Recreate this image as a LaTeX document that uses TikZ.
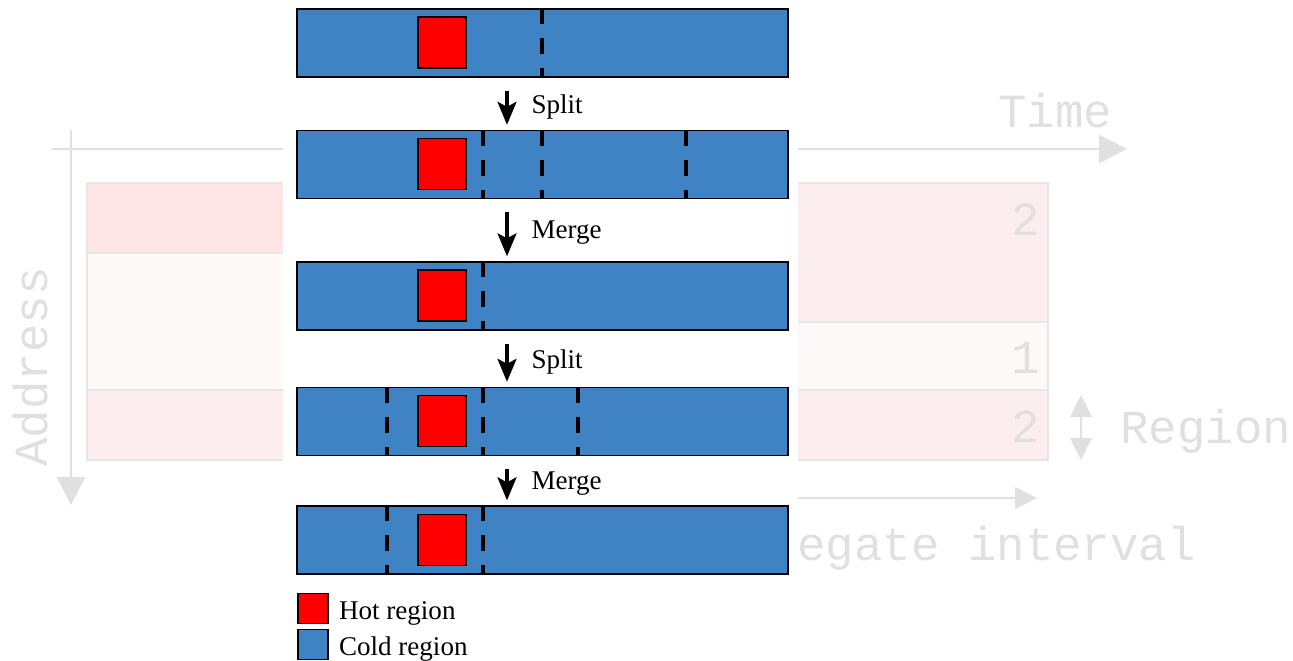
\documentclass[tikz,border=0pt]{standalone}
\usepackage{fontspec}
\setmainfont{Liberation Serif}
\setmonofont{Liberation Mono}
\usepackage{tikz}
\usetikzlibrary{arrows.meta}
\usetikzlibrary{positioning}
\definecolor{cold}{RGB}{63,131,196}
\definecolor{faint}{RGB}{224,224,224}
\definecolor{pinkA}{RGB}{253,228,229}
\definecolor{pinkB}{RGB}{252,238,238}
\definecolor{pinkC}{RGB}{253,249,249}

\begin{document}
\begin{tikzpicture}
    [
    x=0.02cm,y=-0.02cm,
    bar/.style={rectangle,draw,fill=cold,line width=0.8pt,inner sep=0pt,minimum width=9.82cm,minimum height=1.36cm},
    hot/.style={rectangle,draw,fill=red,line width=0.8pt,inner sep=0pt,minimum width=0.96cm,minimum height=1.02cm},
    key/.style={rectangle,draw,line width=0.8pt,inner sep=0pt,minimum size=0.6cm},
    cut/.style={line width=2pt,dash pattern=on 0.32cm off 0.28cm},
    move/.style={-{Stealth[length=0.46cm,width=0.38cm,inset=0.1cm]},line width=1.8pt,shorten <=0.26cm,shorten >=0.1cm},
    lab/.style={inner sep=0pt,font=\fontsize{15.4}{18}\selectfont},
    faded/.style={inner sep=0pt,text=faint,font=\ttfamily\fontsize{27}{30}\selectfont},
    cell/.style={draw=faint!80,line width=0.6pt},
    axis/.style={draw=faint,line width=1.7pt,-{Triangle[length=0.56cm,width=0.56cm]}}
    ]
    \useasboundingbox (0,0) rectangle (1293,660);
    % faded picture in the back
    \path[cell,fill=pinkA] (87,183) rectangle (300,253);
    \path[cell,fill=pinkC] (87,253) rectangle (300,390);
    \path[cell,fill=pinkB] (87,390) rectangle (300,460);
    \path[cell,fill=pinkB] (780,183) rectangle (1048,322);
    \path[cell,fill=pinkC] (780,322) rectangle (1048,390);
    \path[cell,fill=pinkB] (780,390) rectangle (1048,460);
    \draw[axis] (52,149) -- (1127,149);
    \draw[axis] (71,130) -- (71,505);
    \node[faded,anchor=base west] (time) at (998,127) {Time};
    \node[faded,rotate=90,anchor=base] (address) at (47,367) {Address};
    \node[faded,anchor=base west] (region) at (1120,443) {Region};
    \node[faded,anchor=base east] (n1) at (1040,235) {2};
    \node[faded,anchor=base east] (n2) at (1040,373) {1};
    \node[faded,anchor=base east] (n3) at (1040,442) {2};
    \fill[white] (283,0) rectangle (798,660);
    \node[faded,anchor=base west] (interval) at (797,560) {egate interval};
    \draw[faint,line width=0.9pt,-{Triangle[length=0.44cm,width=0.44cm]}] (798,498) -- (1037,498);
    \draw[faint,line width=0.6pt,{Triangle[length=0.44cm,width=0.44cm]}-{Triangle[length=0.44cm,width=0.44cm]}] (1081,395) -- (1081,460);
    % regions
    \node[bar] (b1) at (542.5,43) {};
    \node[bar] (b2) at (542.5,164.5) {};
    \node[bar] (b3) at (542.5,296) {};
    \node[bar] (b4) at (542.5,421.5) {};
    \node[bar] (b5) at (542.5,540) {};
    \node[hot] (h1) at (442,42.5) {};
    \node[hot] (h2) at (442,164) {};
    \node[hot] (h3) at (442,295.5) {};
    \node[hot] (h4) at (442,421) {};
    \node[hot] (h5) at (442,540) {};
    \draw[cut] (b1.north -| 542,0) -- (b1.south -| 542,0);
    \draw[cut] (b2.north -| 483,0) -- (b2.south -| 483,0);
    \draw[cut] (b2.north -| 542,0) -- (b2.south -| 542,0);
    \draw[cut] (b2.north -| 686,0) -- (b2.south -| 686,0);
    \draw[cut] (b3.north -| 483,0) -- (b3.south -| 483,0);
    \draw[cut] (b4.north -| 387,0) -- (b4.south -| 387,0);
    \draw[cut] (b4.north -| 483,0) -- (b4.south -| 483,0);
    \draw[cut] (b4.north -| 578,0) -- (b4.south -| 578,0);
    \draw[cut] (b5.north -| 387,0) -- (b5.south -| 387,0);
    \draw[cut] (b5.north -| 483,0) -- (b5.south -| 483,0);
    \coordinate (ax) at (507,0);
    \draw[move] (b1.south -| ax) -- node[lab,right=0.46cm,yshift=-0.06cm] {Split} (b2.north -| ax);
    \draw[move] (b2.south -| ax) -- node[lab,right=0.46cm,yshift=-0.04cm] {Merge} (b3.north -| ax);
    \draw[move] (b3.south -| ax) -- node[lab,right=0.46cm,yshift=-0.06cm] {Split} (b4.north -| ax);
    \draw[move] (b4.south -| ax) -- node[lab,right=0.46cm,yshift=-0.06cm] {Merge} (b5.north -| ax);
    % legend
    \node[key,fill=red] (hotkey) at (313,608.5) {};
    \node[key,fill=cold] (coldkey) at (313,644.5) {};
    \node[lab,right=0.2cm of hotkey,yshift=-0.1cm] (hottext) {Hot region};
    \node[lab,right=0.2cm of coldkey,yshift=-0.1cm] (coldtext) {Cold region};
\end{tikzpicture}
\end{document}
